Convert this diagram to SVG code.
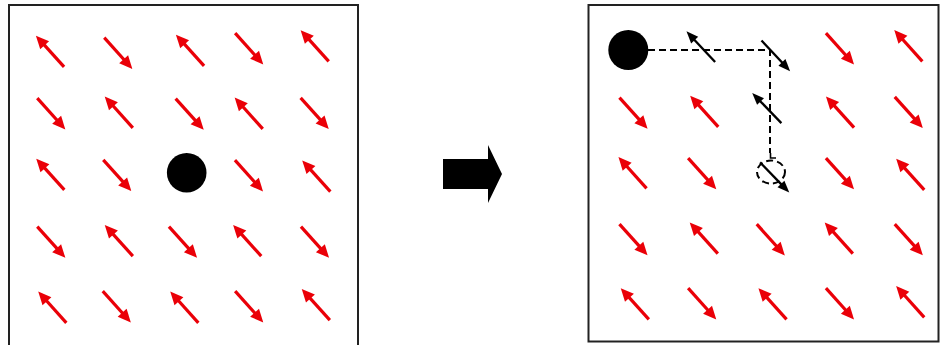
<svg xmlns="http://www.w3.org/2000/svg" xmlns:xlink="http://www.w3.org/1999/xlink" width="940" height="345" viewBox="0 0 940 345">
<style>
.panel{fill:#fff;stroke:#222;stroke-width:2}
.dash{fill:none;stroke:#000;stroke-width:2;stroke-dasharray:7,4}
</style>
<defs>
<g id="ra">
<line x1="-21" y1="0" x2="11" y2="0" stroke="#ea0008" stroke-width="3.2"/>
<path d="M21,0 L8,-6 L8,6 z" fill="#ea0008"/>
</g>
<g id="ba">
<line x1="-21" y1="0" x2="12" y2="0" stroke="#000" stroke-width="2.3"/>
<path d="M21,0 L9,-4.8 L9,4.8 z" fill="#000"/>
</g>
</defs>
<rect width="940" height="345" fill="#fff"/>
<g id="left-panel">
<rect class="panel" x="9" y="5" width="349" height="345"/>
<g id="left-arrows">
<use xlink:href="#ra" transform="translate(50,51.3) rotate(228)"/>
<use xlink:href="#ra" transform="translate(118.3,53.3) rotate(48)"/>
<use xlink:href="#ra" transform="translate(190,50.3) rotate(228)"/>
<use xlink:href="#ra" transform="translate(249.2,48.8) rotate(48)"/>
<use xlink:href="#ra" transform="translate(314.7,45.8) rotate(228)"/>
<use xlink:href="#ra" transform="translate(51.3,113.8) rotate(48)"/>
<use xlink:href="#ra" transform="translate(118.8,112.2) rotate(228)"/>
<use xlink:href="#ra" transform="translate(189.7,114.2) rotate(48)"/>
<use xlink:href="#ra" transform="translate(248.7,113.2) rotate(228)"/>
<use xlink:href="#ra" transform="translate(314.7,113.5) rotate(48)"/>
<use xlink:href="#ra" transform="translate(50.3,174.3) rotate(228)"/>
<use xlink:href="#ra" transform="translate(117.3,175.5) rotate(48)"/>
<use xlink:href="#ra" transform="translate(249,175.8) rotate(48)"/>
<use xlink:href="#ra" transform="translate(316.3,176) rotate(228)"/>
<use xlink:href="#ra" transform="translate(51.3,242.2) rotate(48)"/>
<use xlink:href="#ra" transform="translate(118.8,240.5) rotate(228)"/>
<use xlink:href="#ra" transform="translate(183,242.2) rotate(48)"/>
<use xlink:href="#ra" transform="translate(247.2,240.5) rotate(228)"/>
<use xlink:href="#ra" transform="translate(315,242.2) rotate(48)"/>
<use xlink:href="#ra" transform="translate(52.3,307.2) rotate(228)"/>
<use xlink:href="#ra" transform="translate(116.8,306.8) rotate(48)"/>
<use xlink:href="#ra" transform="translate(184.3,307.2) rotate(228)"/>
<use xlink:href="#ra" transform="translate(249.2,306.8) rotate(48)"/>
<use xlink:href="#ra" transform="translate(315.8,304.5) rotate(228)"/>
</g>
<circle cx="186.7" cy="172.7" r="19.8" fill="#000"/>
</g>
<g id="big-arrow">
<polygon points="443,159 488,159 488,145 502,174 488,203 488,189 443,189" fill="#000"/>
</g>
<g id="right-panel">
<rect class="panel" x="588.5" y="5" width="350" height="336.5"/>
<g id="right-arrows">
<use xlink:href="#ra" transform="translate(840,48.8) rotate(48)"/>
<use xlink:href="#ra" transform="translate(908.3,45.7) rotate(228)"/>
<use xlink:href="#ra" transform="translate(633.5,113.2) rotate(48)"/>
<use xlink:href="#ra" transform="translate(704.2,111.3) rotate(228)"/>
<use xlink:href="#ra" transform="translate(840,112) rotate(228)"/>
<use xlink:href="#ra" transform="translate(908.8,112.5) rotate(48)"/>
<use xlink:href="#ra" transform="translate(632.5,172.7) rotate(228)"/>
<use xlink:href="#ra" transform="translate(702.2,173.7) rotate(48)"/>
<use xlink:href="#ra" transform="translate(840,173.7) rotate(48)"/>
<use xlink:href="#ra" transform="translate(910.2,174.3) rotate(228)"/>
<use xlink:href="#ra" transform="translate(633.5,239.7) rotate(48)"/>
<use xlink:href="#ra" transform="translate(703.8,238) rotate(228)"/>
<use xlink:href="#ra" transform="translate(770.8,239.8) rotate(48)"/>
<use xlink:href="#ra" transform="translate(838.8,238) rotate(228)"/>
<use xlink:href="#ra" transform="translate(908.8,239.7) rotate(48)"/>
<use xlink:href="#ra" transform="translate(634.8,303.8) rotate(228)"/>
<use xlink:href="#ra" transform="translate(702.2,303.8) rotate(48)"/>
<use xlink:href="#ra" transform="translate(772.5,303.8) rotate(228)"/>
<use xlink:href="#ra" transform="translate(840,303.8) rotate(48)"/>
<use xlink:href="#ra" transform="translate(910.2,301.7) rotate(228)"/>
</g>
<g id="connectors">
<path class="dash" d="M648,50 H770 V153"/>
<path fill="none" stroke="#000" stroke-width="1.6" d="M770.5,153 V158 H776"/>
<ellipse class="dash" cx="771" cy="172" rx="14" ry="11.5" stroke-width="2.2" stroke-dasharray="10,6"/>
</g>
<g id="black-arrows">
<use xlink:href="#ba" transform="translate(700.8,46.7) rotate(227)"/>
<use xlink:href="#ba" transform="translate(775.8,55.8) rotate(47)"/>
<use xlink:href="#ba" transform="translate(766.8,108) rotate(226)"/>
<use xlink:href="#ba" transform="translate(774.7,177.5) rotate(46)"/>
</g>
<circle cx="628.3" cy="50" r="20" fill="#000"/>
</g>
</svg>
